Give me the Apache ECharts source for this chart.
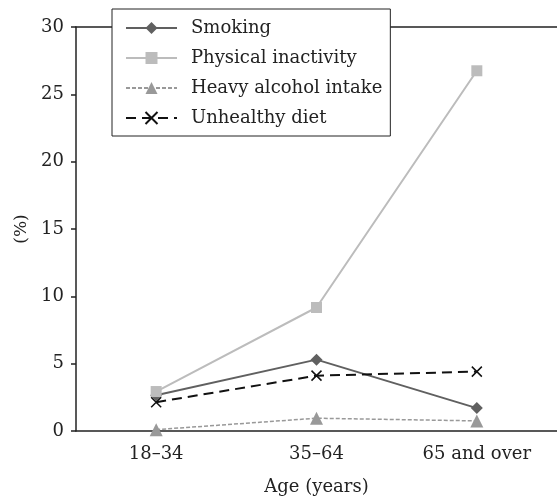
<html>
<head>
    <meta charset="utf-8" />
    <script src="https://cdn.jsdelivr.net/npm/echarts@6/dist/echarts.min.js"></script>
    <style>
        html, body { margin: 0; padding: 0; background: #fff; }
        #chart { width: 557px; height: 501px; }
    </style>
</head>
<body>
    <div id="chart"></div>
    <script>
        // data
        var ageGroups = ['18\u201334', '35\u201364', '65 and over'];
        var smoking = [2.65, 5.3, 1.7];
        var inactivity = [2.93, 9.17, 26.75];
        var alcohol = [0.1, 0.95, 0.75];
        var diet = [2.14, 4.11, 4.41];

        var FONT = 'DejaVu Serif';
        var INK = '#222';

        var crossPath = 'path://M0,0L10,10M10,0L0,10';

        var myChart = echarts.init(document.getElementById('chart'));

        var option = {
            animation: false,
            grid: { left: 76, right: 0, top: 27, bottom: 69 },
            legend: {
                orient: 'vertical',
                left: 112,
                top: 9,
                padding: [10, 8, 9, 13],
                itemGap: 12,
                itemWidth: 51,
                itemHeight: 15,
                borderColor: INK,
                borderWidth: 1,
                borderRadius: 0,
                backgroundColor: '#fff',
                textStyle: { fontFamily: FONT, fontSize: 18, color: INK, padding: [0, 0, 0, 9] },
                data: ['Smoking', 'Physical inactivity', 'Heavy alcohol intake', 'Unhealthy diet']
            },
            xAxis: [{
                type: 'category',
                data: ageGroups,
                name: 'Age (years)',
                nameLocation: 'middle',
                nameGap: 47,
                nameTextStyle: { fontFamily: FONT, fontSize: 18, color: INK },
                axisLine: { lineStyle: { color: INK, width: 1.5 } },
                axisTick: { show: false },
                splitLine: { show: false },
                axisLabel: { margin: 14, fontFamily: FONT, fontSize: 18, color: INK }
            }, {
                type: 'category',
                data: ageGroups,
                position: 'top',
                axisLine: { show: true, lineStyle: { color: INK, width: 1.5 } },
                axisTick: { show: false },
                axisLabel: { show: false },
                splitLine: { show: false }
            }],
            yAxis: {
                type: 'value',
                min: 0,
                max: 30,
                interval: 5,
                name: '(%)',
                nameLocation: 'middle',
                nameGap: 42,
                nameTextStyle: { fontFamily: FONT, fontSize: 17, color: INK },
                axisLine: { show: true, onZero: false, lineStyle: { color: INK, width: 1.5 } },
                axisTick: { show: true, length: 5, lineStyle: { color: INK, width: 1.5 } },
                splitLine: { show: false },
                axisLabel: { margin: 12, fontFamily: FONT, fontSize: 18, color: INK }
            },
            series: [
                {
                    name: 'Smoking',
                    type: 'line',
                    data: smoking,
                    symbol: 'diamond',
                    symbolSize: 12,
                    lineStyle: { color: '#606060', width: 2 },
                    itemStyle: { color: '#606060' }
                },
                {
                    name: 'Physical inactivity',
                    type: 'line',
                    data: inactivity,
                    symbol: 'rect',
                    symbolSize: 11,
                    lineStyle: { color: '#bcbcbc', width: 2 },
                    itemStyle: { color: '#bcbcbc' }
                },
                {
                    name: 'Heavy alcohol intake',
                    type: 'line',
                    data: alcohol,
                    symbol: 'triangle',
                    symbolSize: 13,
                    lineStyle: { color: '#999', width: 1.5, type: [4, 2] },
                    itemStyle: { color: '#999' }
                },
                {
                    name: 'Unhealthy diet',
                    type: 'line',
                    data: diet,
                    symbol: crossPath,
                    symbolSize: 10,
                    lineStyle: { color: '#111', width: 2, type: [10, 6] },
                    itemStyle: { color: 'none', borderColor: '#111', borderWidth: 1.5 }
                }
            ]
        };

        myChart.setOption(option);
    </script>
</body>
</html>
